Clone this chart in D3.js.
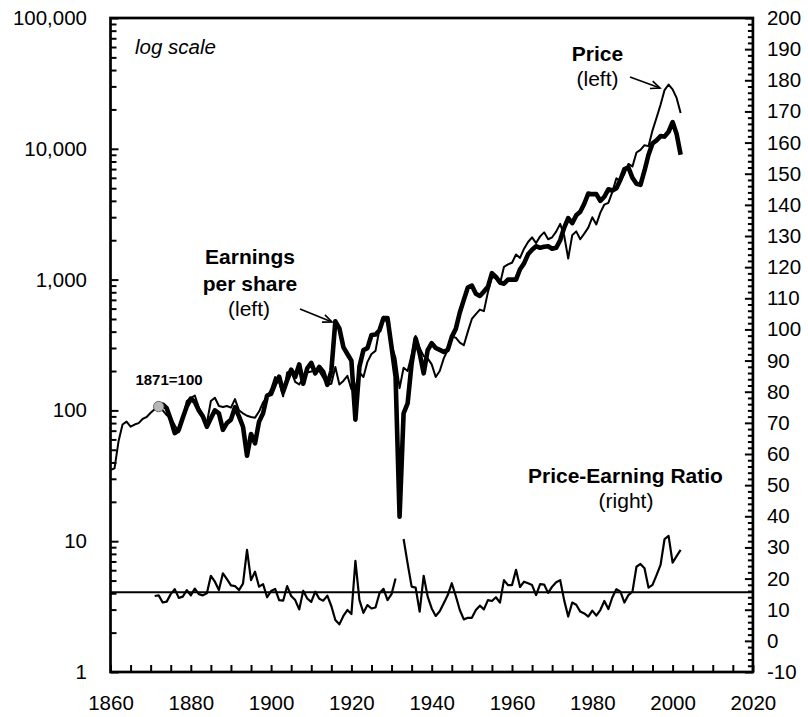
<!DOCTYPE html>
<html><head><meta charset="utf-8">
<script src="https://cdn.jsdelivr.net/npm/d3@7"></script>
<style>
html,body{margin:0;padding:0;background:#fff;}
svg{display:block;font-family:"Liberation Sans",Arial,Helvetica,sans-serif;}
</style></head><body>
<svg id="chart" width="808" height="717"></svg>
<script>
// ---------------- DATA ----------------
// Stock price index (1871=100), annual, from 1860
const priceStart = 1860;
const priceValues = [
  35, 36, 58, 78, 82, 75, 78, 80, 86, 89,           // 1860-1869
  96, 102, 107, 100, 92, 88, 77, 68, 86, 118,       // 1870-1879
  124, 130, 105, 92, 80, 118, 125, 108, 106, 108,   // 1880-1889
  105, 122, 100, 95, 91, 89, 88, 98, 115, 126,      // 1890-1899
  145, 180, 165, 128, 195, 200, 165, 158, 178, 195, // 1900-1909
  198, 205, 200, 178, 158, 160, 215, 158, 168, 184, // 1910-1919
  145, 150, 195, 180, 235, 270, 285, 420, 520, 465, // 1920-1929
  316, 250, 148, 212, 200, 265, 370, 300, 260, 250, // 1930-1939
  225, 180, 200, 250, 290, 365, 360, 330, 315, 400, // 1940-1949
  500, 545, 590, 574, 802, 1050, 1023, 926, 1252, 1306,        // 1950-1959
  1345, 1556, 1466, 1723, 1939, 2101, 1903, 2140, 2297, 2034,  // 1960-1969
  2106, 2327, 2667, 2164, 1450, 2182, 2338, 2034, 2245, 2498,  // 1970-1979
  2995, 2642, 3250, 3748, 3865, 4689, 5957, 5642, 6428, 7657,  // 1980-1989
  7331, 9372, 9802, 10653, 10479, 13838, 17257, 21698, 28126, 31000, // 1990-1999
  28500, 24500, 18800                                          // 2000-2002
];

// Earnings per share index (1871=100), annual
const earnStart = 1872;
const earnValues = [
  107, 111, 104, 85, 67, 71, 88, 107,               // 1872-1879
  123, 116, 100, 90, 75, 87, 100, 95, 71, 80,       // 1880-1889
  85, 106, 90, 75, 45, 66, 56, 82, 95, 130,         // 1890-1899
  134, 160, 181, 139, 170, 205, 180, 225, 160, 210, // 1900-1909
  231, 192, 215, 197, 157, 200, 480, 424, 305, 270, // 1910-1919
  240, 85, 216, 289, 299, 377, 380, 410, 508, 508,  // 1920-1929
  305, 181, 15.4, 95, 113, 228, 355, 273, 192, 289, // 1930-1939
  326, 300, 290, 280, 290, 365, 420, 560, 700, 870, // 1940-1949
  900, 780, 750, 810, 880, 1120, 1050, 950, 930, 1000,          // 1950-1959
  1000, 1000, 1200, 1330, 1560, 1690, 1800, 1750, 1780, 1800,   // 1960-1969
  1720, 1750, 2000, 2500, 2950, 2700, 3100, 3300, 3800, 4550,   // 1970-1979
  4500, 4500, 4000, 4300, 4900, 4800, 5000, 5800, 7000, 7200,   // 1980-1989
  6000, 5400, 5300, 6800, 9000, 11000, 11600, 12500, 12400, 13500, // 1990-1999
  16000, 13000, 9000                                            // 2000-2002
];

// Price-earnings ratio (right axis); 1932 not shown
const peStart = 1871;
const peValues = [
  14.4, 14.6, 12.3, 12.6, 15.0, 16.6, 13.8, 14.2, 16.3,              // 1871-1879
  14.6, 16.8, 15.0, 14.6, 15.3, 20.9, 19.0, 16.3, 21.7, 19.8,        // 1880-1889
  17.8, 17.6, 16.3, 18.4, 29.2, 19.5, 22.2, 17.4, 18.2, 14.0,        // 1890-1899
  16.0, 16.7, 13.1, 12.9, 17.6, 14.4, 13.1, 10.1, 16.1, 13.6,        // 1900-1909
  12.5, 15.8, 13.5, 12.9, 14.5, 11.2, 6.7, 5.3, 8.0, 9.9,            // 1910-1919
  8.6, 25.7, 13.1, 9.0, 11.5, 10.4, 10.7, 15.3, 16.7, 13.1,          // 1920-1929
  15.0, 20.0, null, 32.7, 24.9, 17.4, 17.1, 9.4, 20.9, 14.2,         // 1930-1939
  10.4, 8.0, 9.5, 12.1, 14.7, 18.5, 14.4, 9.9, 6.9, 7.4,             // 1940-1949
  7.4, 9.9, 11.3, 10.1, 13.1, 12.8, 14.0, 12.3, 19.5, 17.9,          // 1950-1959
  17.9, 22.8, 17.3, 19.0, 18.5, 17.9, 14.7, 18.2, 18.1, 15.4,        // 1960-1969
  17.4, 18.8, 19.5, 13.0, 7.8, 12.3, 11.6, 9.4, 8.8, 7.8,            // 1970-1979
  9.7, 8.1, 9.9, 12.8, 10.2, 14.0, 16.6, 15.8, 12.3, 14.7,           // 1980-1989
  15.8, 23.8, 24.7, 23.3, 17.1, 18.0, 21.1, 24.4, 32.7, 33.7,        // 1990-1999
  25.1, 27.2, 29.2                                                   // 2000-2002
];
const peAverage = 15.6;

const baseMarker = { year: 1872, value: 107, label: "1871=100" };

const xDomain = [1860, 2020];
const xTickStep = 5, xLabelStep = 20;
const leftDomain = [1, 100000];
const rightDomain = [-10, 200];
const rightTickStep = 2, rightLabelStep = 10;

// ---------------- CHART ----------------
const svg = d3.select("#chart");
const L = 110.5, R = 752.9, T = 18, B = 672;
const FONT = "20.5px";

const x = d3.scaleLinear().domain(xDomain).range([L, R]);
const yL = d3.scaleLog().domain(leftDomain).range([B, T]);
const yR = d3.scaleLinear().domain(rightDomain).range([B, T]);

// P/E line and its average
const peLine = d3.line().defined(d => d != null)
  .x((d, i) => x(peStart + i)).y(d => yR(d));
svg.append("line")
  .attr("x1", L).attr("x2", R)
  .attr("y1", yR(peAverage)).attr("y2", yR(peAverage))
  .attr("stroke", "#000").attr("stroke-width", 2);
svg.append("path").datum(peValues)
  .attr("d", peLine).attr("fill", "none")
  .attr("stroke", "#000").attr("stroke-width", 2.2)
  .attr("stroke-linejoin", "round");

// Price (thin) and earnings (thick)
const priceLine = d3.line().x((d, i) => x(priceStart + i)).y(d => yL(d));
const earnLine = d3.line().x((d, i) => x(earnStart + i)).y(d => yL(d));
svg.append("path").datum(priceValues)
  .attr("d", priceLine).attr("fill", "none")
  .attr("stroke", "#000").attr("stroke-width", 2)
  .attr("stroke-linejoin", "round");
svg.append("path").datum(earnValues)
  .attr("d", earnLine).attr("fill", "none")
  .attr("stroke", "#000").attr("stroke-width", 4.6)
  .attr("stroke-linejoin", "round");

// base marker
svg.append("circle")
  .attr("cx", x(baseMarker.year)).attr("cy", yL(baseMarker.value))
  .attr("r", 5.2).attr("fill", "#b8b8b8")
  .attr("stroke", "#6a6a6a").attr("stroke-width", 1);

// ---------------- AXES ----------------
function styleAxis(g) {
  g.select(".domain").remove();
  g.attr("font-size", null).attr("font-family", null);
  g.selectAll("text").attr("font-size", FONT).attr("fill", "#000");
  g.selectAll(".tick line").attr("stroke", "#000").attr("stroke-width", 2);
}

const xTicks = d3.range(xDomain[0], xDomain[1] + 1, xTickStep);
const xAxis = d3.axisBottom(x).tickValues(xTicks)
  .tickSizeInner(-7).tickSizeOuter(0).tickPadding(23)
  .tickFormat(d => d % xLabelStep === 0 ? String(d) : "");
svg.append("g").attr("transform", `translate(0,${B})`).call(xAxis).call(styleAxis);

const leftTicks = [];
for (let p = 0; p <= 5; p++) {
  for (let m = 1; m <= 9; m++) {
    const v = m * Math.pow(10, p);
    if (v <= leftDomain[1]) leftTicks.push(v);
  }
}
const isDecade = v => Math.abs(Math.log10(v) - Math.round(Math.log10(v))) < 1e-9;
const yLAxis = d3.axisLeft(yL).tickValues(leftTicks)
  .tickSizeInner(-6).tickSizeOuter(0).tickPadding(23.5)
  .tickFormat(d => isDecade(d) ? d3.format(",")(d) : "");
const gL = svg.append("g").attr("transform", `translate(${L},0)`).call(yLAxis).call(styleAxis);
gL.selectAll(".tick").filter(d => isDecade(d)).select("line").attr("x2", 8);

const rightTicks = d3.range(rightDomain[0], rightDomain[1] + 1, rightTickStep);
const yRAxis = d3.axisRight(yR).tickValues(rightTicks)
  .tickSizeInner(-5).tickSizeOuter(0).tickPadding(14)
  .tickFormat(d => d % rightLabelStep === 0 ? String(d) : "");
const gR = svg.append("g").attr("transform", `translate(${R},0)`).call(yRAxis).call(styleAxis);
gR.selectAll(".tick").filter(d => d % rightLabelStep === 0).select("line").attr("x2", -8);
gR.selectAll("text").attr("x", 14);

// frame
svg.append("rect").attr("x", L).attr("y", T)
  .attr("width", R - L).attr("height", B - T)
  .attr("fill", "none").attr("stroke", "#000").attr("stroke-width", 2.7);

// ---------------- ANNOTATIONS ----------------
function txt(s, xx, yy, opts = {}) {
  return svg.append("text").attr("x", xx).attr("y", yy)
    .attr("font-size", opts.size || "21px")
    .attr("font-weight", opts.bold ? "bold" : "normal")
    .attr("font-style", opts.italic ? "italic" : "normal")
    .attr("text-anchor", opts.anchor || "middle")
    .attr("fill", "#000").text(s);
}
txt("log scale", 135, 54, { anchor: "start", italic: true, size: "20.5px" });
txt("Price", 597.5, 61, { bold: true });
txt("(left)", 597.5, 86);
txt("Earnings", 250, 264, { bold: true });
txt("per share", 250, 291, { bold: true });
txt("(left)", 249, 316);
txt(baseMarker.label, 169, 385, { bold: true, size: "15px" });
txt("Price-Earning Ratio", 528, 483, { anchor: "start", bold: true });
txt("(right)", 626, 508);

function arrow(x1, y1, x2, y2) {
  svg.append("line").attr("x1", x1).attr("y1", y1).attr("x2", x2).attr("y2", y2)
    .attr("stroke", "#000").attr("stroke-width", 1.6);
  const a = Math.atan2(y2 - y1, x2 - x1), len = 10, spread = 0.4;
  const p1 = [x2 - len * Math.cos(a - spread), y2 - len * Math.sin(a - spread)];
  const p2 = [x2 - len * Math.cos(a + spread), y2 - len * Math.sin(a + spread)];
  svg.append("path").attr("d", `M${p1[0]},${p1[1]}L${x2},${y2}L${p2[0]},${p2[1]}`)
    .attr("fill", "none").attr("stroke", "#000").attr("stroke-width", 1.6);
}
arrow(630, 77, 660, 88);
arrow(300, 309, 332, 322);
</script>
</body></html>
